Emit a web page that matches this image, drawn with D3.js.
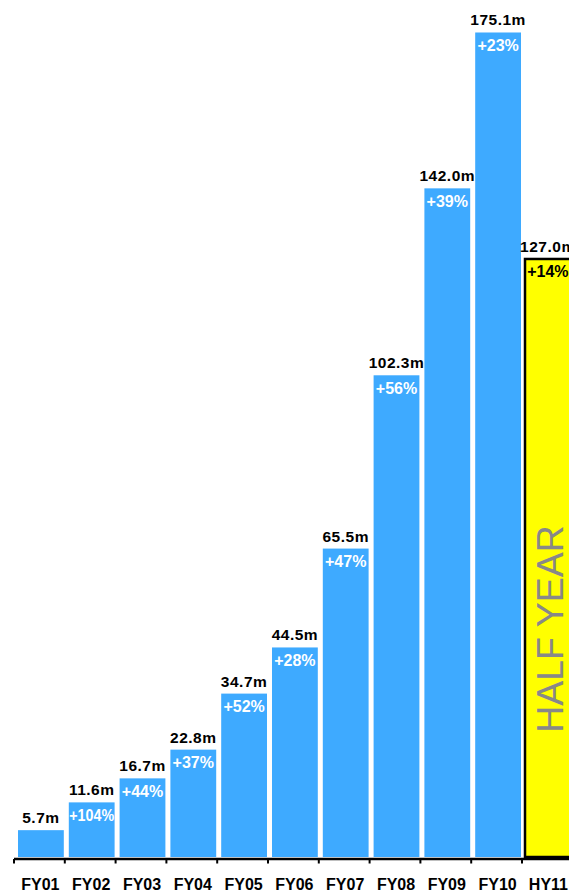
<!DOCTYPE html>
<html>
<head>
<meta charset="utf-8">
<script src="https://cdn.jsdelivr.net/npm/d3@7"></script>
<style>
  html, body { margin: 0; padding: 0; background: #fff; overflow: hidden; }
  svg { display: block; font-family: "Liberation Sans", Arial, sans-serif; }
</style>
</head>
<body>
<svg id="chart" width="569" height="893"></svg>
<script>
// Revenue by year (millions), with year-on-year growth
const categories = ["FY01", "FY02", "FY03", "FY04", "FY05", "FY06", "FY07", "FY08", "FY09", "FY10", "HY11"];
const values = [5.7, 11.6, 16.7, 22.8, 34.7, 44.5, 65.5, 102.3, 142.0, 175.1, 127.0];
const growth = ["", "+104%", "+44%", "+37%", "+52%", "+28%", "+47%", "+56%", "+39%", "+23%", "+14%"];
const halfYearLabel = "HALF YEAR";

const data = categories.map((c, i) => ({ cat: c, value: values[i], growth: growth[i], half: c.startsWith("HY") }));

const svg = d3.select("#chart");
const baseY = 857;
const x = d3.scaleBand().domain(categories).range([14, 14 + categories.length * 50.8]);
const y = d3.scaleLinear().domain([0, 182]).range([baseY, 0]);

const barW = x.bandwidth() - 5;
const barX = d => x(d.cat) + (d.half ? 3 : 4);

// bars
svg.append("g").selectAll("rect").data(data).join("rect")
  .attr("x", d => barX(d))
  .attr("y", d => y(d.value))
  .attr("width", d => d.half ? barW + 10 : barW)
  .attr("height", d => y(0) - y(d.value))
  .attr("fill", d => d.half ? "#ffff00" : "#3eaaff")
  .attr("stroke", d => d.half ? "#000" : "none")
  .attr("stroke-width", 2.5);

// value labels above bars
svg.append("g").selectAll("text").data(data).join("text")
  .attr("x", d => barX(d) + barW / 2)
  .attr("y", d => y(d.value) - 7)
  .attr("text-anchor", "middle")
  .attr("font-size", 15.5)
  .attr("font-weight", "bold")
  .attr("letter-spacing", 0.5)
  .attr("fill", "#000")
  .text(d => d.value.toFixed(1) + "m");

// growth labels inside bars
const g = svg.append("g").selectAll("text").data(data.filter(d => d.growth)).join("text")
  .attr("x", d => barX(d) + barW / 2)
  .attr("y", d => y(d.value) + 18.5)
  .attr("text-anchor", "middle")
  .attr("font-size", 16)
  .attr("font-weight", "bold")
  .attr("fill", d => d.half ? "#000" : "#fff")
  .text(d => d.growth);
g.each(function () {
  const w = this.getComputedTextLength();
  if (w > barW) {
    d3.select(this).attr("textLength", barW - 1).attr("lengthAdjust", "spacingAndGlyphs");
  }
});

// rotated note on the half-year bar
const hy = data.find(d => d.half);
svg.append("text")
  .attr("transform", `translate(${barX(hy) + 38},629) rotate(-90)`)
  .attr("text-anchor", "middle")
  .attr("font-size", 37.5)
  .attr("fill", "#888888")
  .text(halfYearLabel);

// x axis
const axis = svg.append("g").attr("transform", `translate(0,${baseY + 2})`);
axis.append("line")
  .attr("x1", x.range()[0]).attr("x2", 569)
  .attr("stroke", "#000").attr("stroke-width", 2.5);
axis.selectAll("line.tick").data(categories).join("line")
  .attr("class", "tick")
  .attr("x1", d => x(d)).attr("x2", d => x(d))
  .attr("y1", 0).attr("y2", 4.5)
  .attr("stroke", "#000").attr("stroke-width", 2);
axis.selectAll("text").data(categories).join("text")
  .attr("x", d => x(d) + x.bandwidth() / 2 + 1)
  .attr("y", 31)
  .attr("text-anchor", "middle")
  .attr("font-size", 16)
  .attr("font-weight", "bold")
  .attr("fill", "#000")
  .text(d => d);
</script>
</body>
</html>
